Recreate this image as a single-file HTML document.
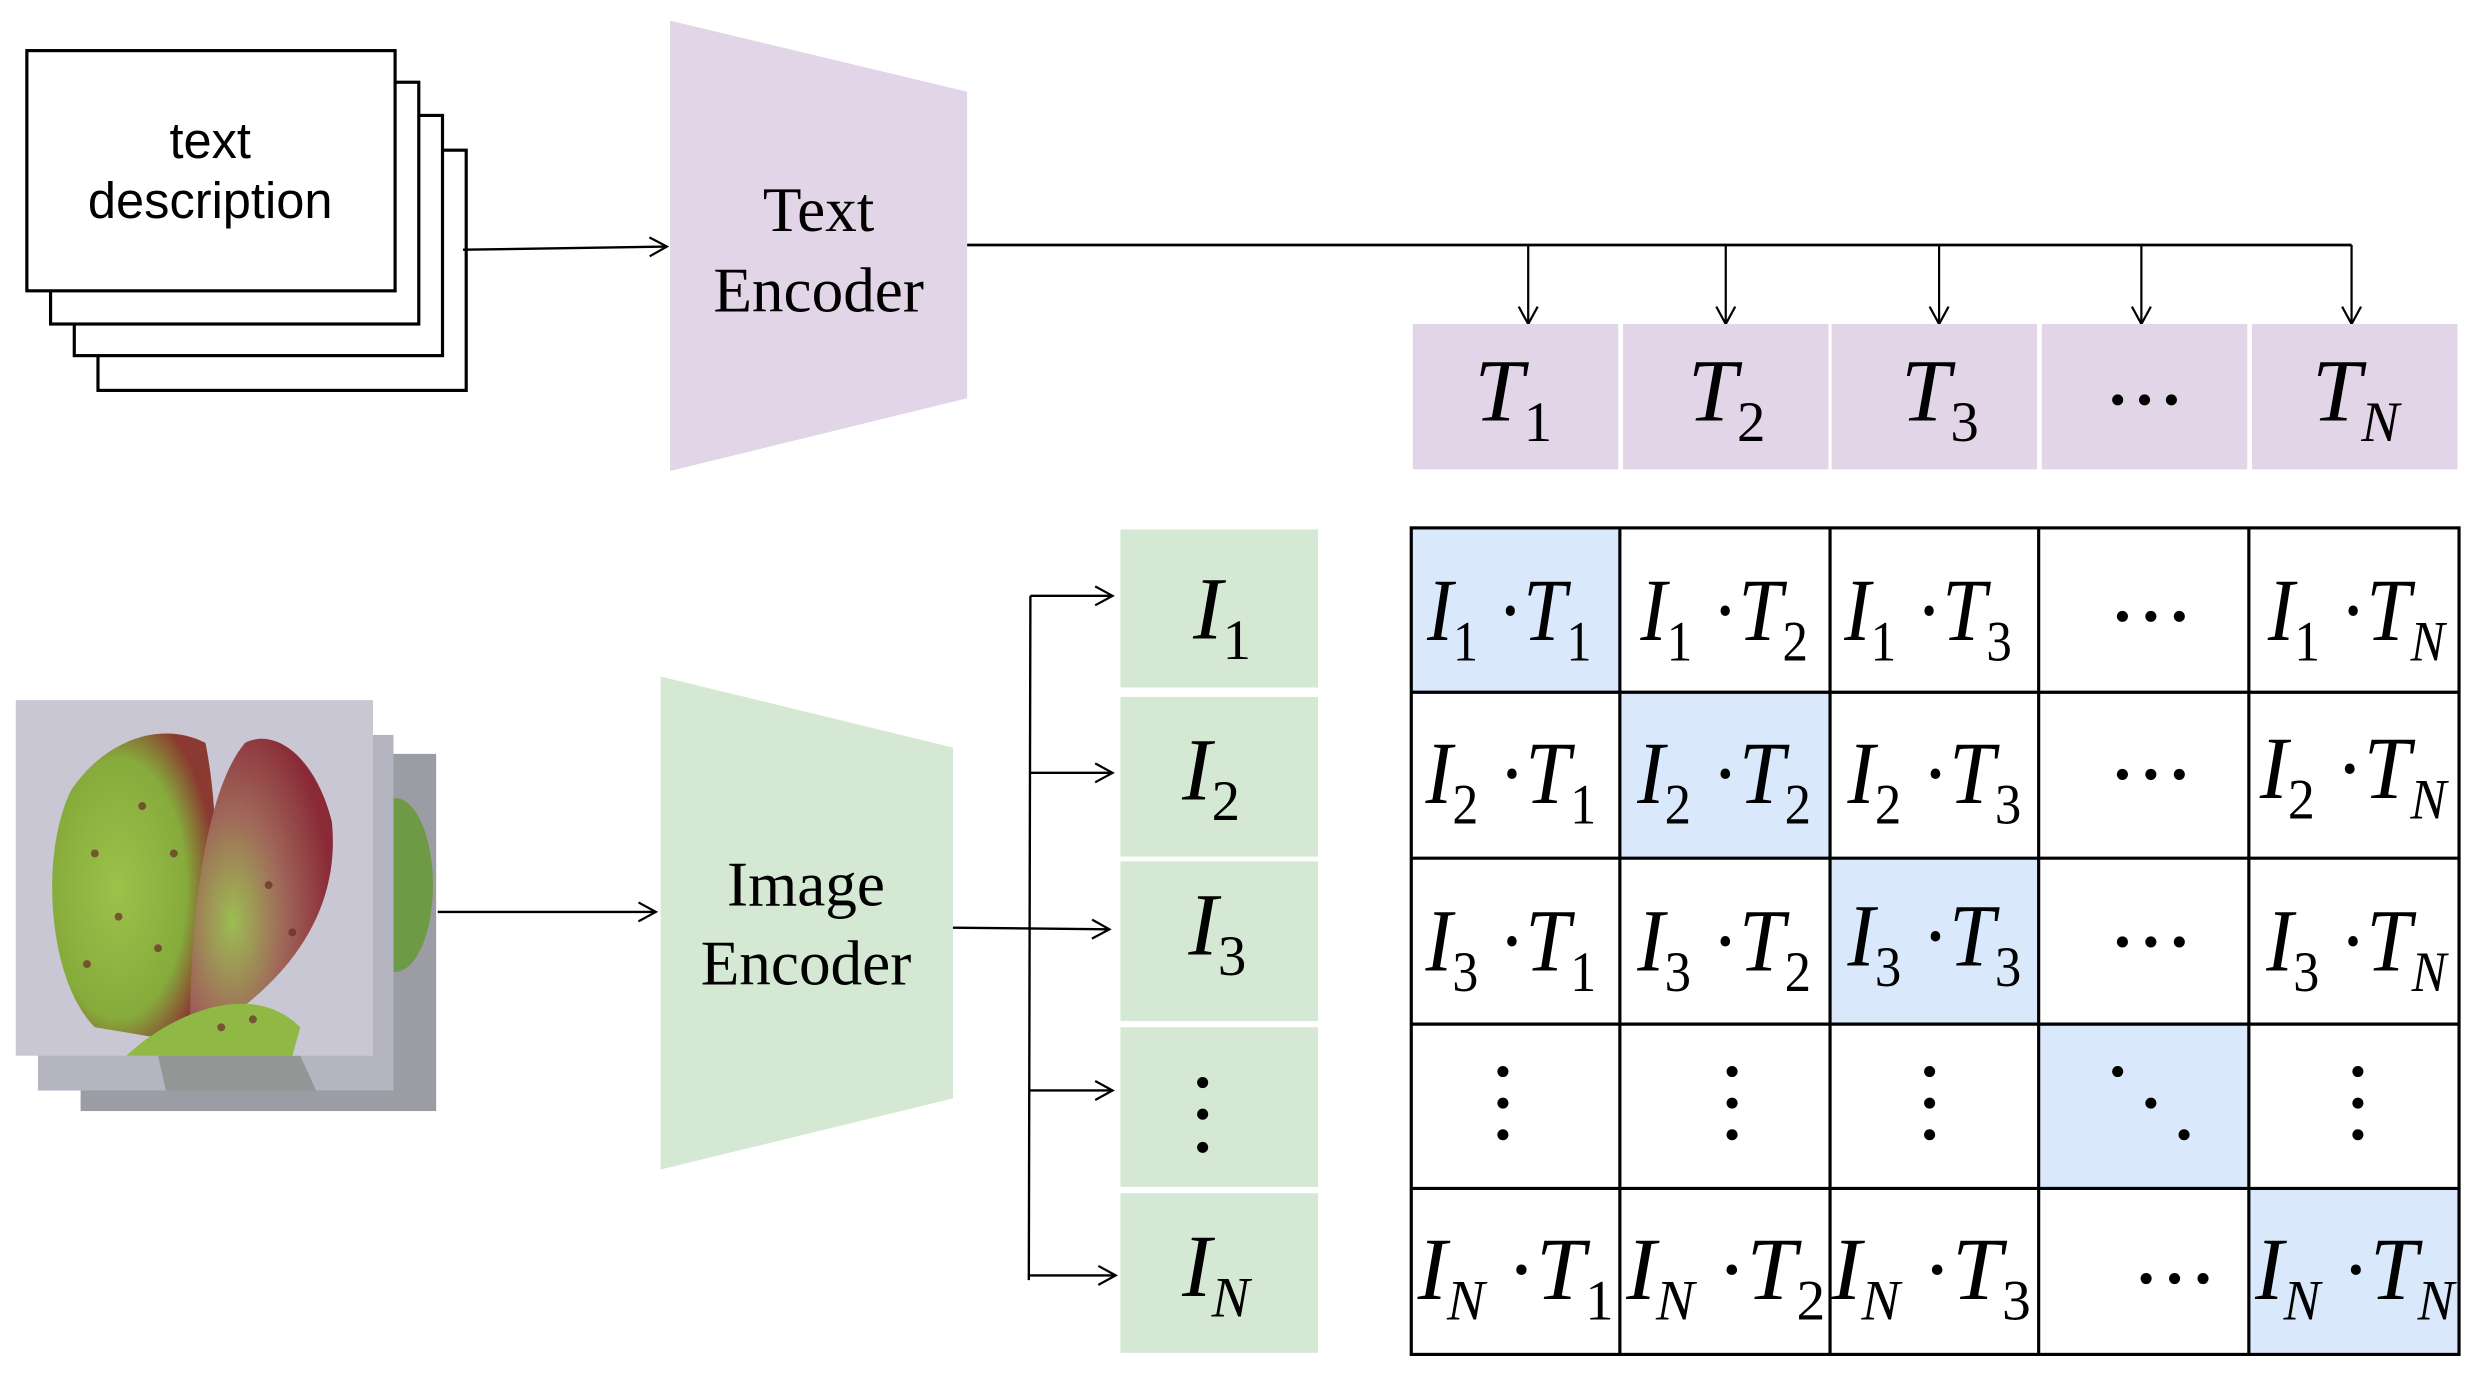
<!DOCTYPE html>
<html><head><meta charset="utf-8"><style>
html,body{margin:0;padding:0;background:#fff;}
svg{display:block;}
.m{font-family:"Liberation Serif","Times New Roman",serif;font-style:italic;font-size:56px;fill:#000;}
.s{font-style:normal;font-size:36px;}
.n{font-style:italic;font-size:36px;}
.u{font-style:normal;}
.enc{font-family:"Liberation Serif","Times New Roman",serif;font-size:40px;}
.sans{font-family:"Liberation Sans",Arial,sans-serif;font-size:32px;}
</style></head><body>
<svg width="2478" height="1375" viewBox="0 0 1568 870" xmlns="http://www.w3.org/2000/svg">
<defs>
<marker id="a" markerWidth="14" markerHeight="14" refX="12" refY="7" orient="auto" markerUnits="userSpaceOnUse">
<path d="M1,1 L12,7 L1,13" fill="none" stroke="#000" stroke-width="1.4"/></marker>
<radialGradient id="lg" cx="0.4" cy="0.5" r="0.6"><stop offset="0" stop-color="#9cc24a"/><stop offset="0.7" stop-color="#86ab3c"/><stop offset="1" stop-color="#8a3a30"/></radialGradient>
<radialGradient id="rg" cx="0.3" cy="0.6" r="0.7"><stop offset="0" stop-color="#9cbd52"/><stop offset="0.5" stop-color="#a0685a"/><stop offset="1" stop-color="#8a2a36"/></radialGradient>
</defs>

<g fill="#fff" stroke="#000" stroke-width="2">
<rect x="62" y="95" width="233" height="152"/>
<rect x="47" y="73" width="233" height="152"/>
<rect x="32" y="52" width="233" height="153"/>
<rect x="17" y="32" width="233" height="152"/>
</g>
<text class="sans" x="133" y="100" text-anchor="middle">text</text>
<text class="sans" x="133" y="138" text-anchor="middle">description</text>
<line x1="293" y1="158" x2="422" y2="156" stroke="#000" stroke-width="1.5" marker-end="url(#a)"/>

<polygon points="424,13 612,58 612,252 424,298" fill="#e1d5e7"/>
<text class="enc" x="518" y="146" text-anchor="middle">Text</text>
<text class="enc" x="518" y="197" text-anchor="middle">Encoder</text>
<line x1="612" y1="155" x2="1488" y2="155" stroke="#000" stroke-width="1.8"/>
<g stroke="#000" stroke-width="1.4">
<line x1="967" y1="155" x2="967" y2="205" marker-end="url(#a)"/>
<line x1="1092" y1="155" x2="1092" y2="205" marker-end="url(#a)"/>
<line x1="1227" y1="155" x2="1227" y2="205" marker-end="url(#a)"/>
<line x1="1355" y1="155" x2="1355" y2="205" marker-end="url(#a)"/>
<line x1="1488" y1="155" x2="1488" y2="205" marker-end="url(#a)"/>
</g>
<g fill="#e1d5e7">
<rect x="894" y="205" width="130" height="92"/>
<rect x="1027" y="205" width="130" height="92"/>
<rect x="1159" y="205" width="130" height="92"/>
<rect x="1292" y="205" width="130" height="92"/>
<rect x="1425" y="205" width="130" height="92"/>
</g>
<text class="m" x="933" y="266">T<tspan class="s" dy="13">1</tspan></text>
<text class="m" x="1068" y="266">T<tspan class="s" dy="13">2</tspan></text>
<text class="m" x="1203" y="266">T<tspan class="s" dy="13">3</tspan></text>
<g fill="#000"><circle cx="1340" cy="253" r="3.5"/><circle cx="1357" cy="253" r="3.5"/><circle cx="1374" cy="253" r="3.5"/></g>
<text class="m" x="1463" y="266">T<tspan class="n" dy="13">N</tspan></text>

<rect x="51" y="477" width="225" height="226" fill="#9c9ca4"/>
<ellipse cx="250" cy="560" rx="24" ry="55" fill="#6f9a45"/>
<rect x="24" y="465" width="225" height="225" fill="#b5b5c2"/>
<rect x="10" y="443" width="226" height="225" fill="#c9c7d3"/>
<path d="M60,650 C30,620 25,540 45,500 C65,470 100,455 130,470 C140,520 140,600 120,660 Z" fill="url(#lg)"/>
<path d="M120,660 C120,580 130,500 155,470 C175,460 200,480 210,520 C215,570 190,610 150,640 Z" fill="url(#rg)"/>
<path d="M80,668 C110,640 160,620 190,650 L185,668 Z" fill="#8fb845"/>
<path d="M100,668 L105,690 L200,690 L190,668 Z" fill="#6f7a6a" opacity="0.5"/>
<g fill="#6a2a2a" opacity="0.7">
<circle cx="60" cy="540" r="2.5"/><circle cx="75" cy="580" r="2.5"/><circle cx="90" cy="510" r="2.5"/><circle cx="100" cy="600" r="2.5"/><circle cx="55" cy="610" r="2.5"/><circle cx="110" cy="540" r="2.5"/><circle cx="140" cy="650" r="2.5"/><circle cx="160" cy="645" r="2.5"/><circle cx="170" cy="560" r="2.5"/><circle cx="185" cy="590" r="2.5"/>
</g>
<line x1="277" y1="577" x2="415" y2="577" stroke="#000" stroke-width="1.5" marker-end="url(#a)"/>

<polygon points="418,428 603,473 603,695 418,740" fill="#d5e8d4"/>
<text class="enc" x="510" y="573" text-anchor="middle">Image</text>
<text class="enc" x="510" y="623" text-anchor="middle">Encoder</text>
<line x1="603" y1="587" x2="702" y2="588" stroke="#000" stroke-width="1.5" marker-end="url(#a)"/>
<line x1="652" y1="377" x2="651" y2="810" stroke="#000" stroke-width="1.5"/>
<g stroke="#000" stroke-width="1.5">
<line x1="652" y1="377" x2="704" y2="377" marker-end="url(#a)"/>
<line x1="652" y1="489" x2="704" y2="489" marker-end="url(#a)"/>
<line x1="652" y1="690" x2="704" y2="690" marker-end="url(#a)"/>
<line x1="651" y1="807" x2="706" y2="807" marker-end="url(#a)"/>
</g>
<g fill="#d5e8d4">
<rect x="709" y="335" width="125" height="100"/>
<rect x="709" y="441" width="125" height="101"/>
<rect x="709" y="545" width="125" height="101"/>
<rect x="709" y="650" width="125" height="101"/>
<rect x="709" y="755" width="125" height="101"/>
</g>
<text class="m" x="755" y="404">I<tspan class="s" dy="13">1</tspan></text>
<text class="m" x="748" y="506">I<tspan class="s" dy="13">2</tspan></text>
<text class="m" x="752" y="604">I<tspan class="s" dy="13">3</tspan></text>
<g fill="#000"><circle cx="761" cy="685" r="3.5"/><circle cx="761" cy="705" r="3.5"/><circle cx="761" cy="726" r="3.5"/></g>
<text class="m" x="748" y="820">I<tspan class="n" dy="13">N</tspan></text>

<g fill="#dae8fc">
<rect x="893" y="334" width="132" height="104"/>
<rect x="1025" y="438" width="133" height="105"/>
<rect x="1158" y="543" width="132" height="105"/>
<rect x="1290" y="648" width="133" height="104"/>
<rect x="1423" y="752" width="133" height="105"/>
</g>
<g stroke="#000" stroke-width="2" fill="none">
<rect x="893" y="334" width="663" height="523"/>
<line x1="1025" y1="334" x2="1025" y2="857"/>
<line x1="1158" y1="334" x2="1158" y2="857"/>
<line x1="1290" y1="334" x2="1290" y2="857"/>
<line x1="1423" y1="334" x2="1423" y2="857"/>
<line x1="893" y1="438" x2="1556" y2="438"/>
<line x1="893" y1="543" x2="1556" y2="543"/>
<line x1="893" y1="648" x2="1556" y2="648"/>
<line x1="893" y1="752" x2="1556" y2="752"/>
</g>

<text class="m" x="955" y="405" text-anchor="middle" textLength="104" lengthAdjust="spacingAndGlyphs">I<tspan class="s" dy="13">1</tspan><tspan class="u" dy="-13"> ·</tspan>T<tspan class="s" dy="13">1</tspan></text>
<text class="m" x="1091" y="405" text-anchor="middle" textLength="106" lengthAdjust="spacingAndGlyphs">I<tspan class="s" dy="13">1</tspan><tspan class="u" dy="-13"> ·</tspan>T<tspan class="s" dy="13">2</tspan></text>
<text class="m" x="1220" y="405" text-anchor="middle" textLength="106" lengthAdjust="spacingAndGlyphs">I<tspan class="s" dy="13">1</tspan><tspan class="u" dy="-13"> ·</tspan>T<tspan class="s" dy="13">3</tspan></text>
<g fill="#000"><circle cx="1343" cy="390" r="3.5"/><circle cx="1361" cy="390" r="3.5"/><circle cx="1379" cy="390" r="3.5"/></g>
<text class="m" x="1491" y="405" text-anchor="middle" textLength="112" lengthAdjust="spacingAndGlyphs">I<tspan class="s" dy="13">1</tspan><tspan class="u" dy="-13"> ·</tspan>T<tspan class="n" dy="13">N</tspan></text>

<text class="m" x="956" y="508" text-anchor="middle" textLength="108" lengthAdjust="spacingAndGlyphs">I<tspan class="s" dy="13">2</tspan><tspan class="u" dy="-13"> ·</tspan>T<tspan class="s" dy="13">1</tspan></text>
<text class="m" x="1091" y="508" text-anchor="middle" textLength="110" lengthAdjust="spacingAndGlyphs">I<tspan class="s" dy="13">2</tspan><tspan class="u" dy="-13"> ·</tspan>T<tspan class="s" dy="13">2</tspan></text>
<text class="m" x="1224" y="508" text-anchor="middle" textLength="110" lengthAdjust="spacingAndGlyphs">I<tspan class="s" dy="13">2</tspan><tspan class="u" dy="-13"> ·</tspan>T<tspan class="s" dy="13">3</tspan></text>
<g fill="#000"><circle cx="1343" cy="490" r="3.5"/><circle cx="1361" cy="490" r="3.5"/><circle cx="1379" cy="490" r="3.5"/></g>
<text class="m" x="1489" y="505" text-anchor="middle" textLength="118" lengthAdjust="spacingAndGlyphs">I<tspan class="s" dy="13">2</tspan><tspan class="u" dy="-13"> ·</tspan>T<tspan class="n" dy="13">N</tspan></text>

<text class="m" x="956" y="614" text-anchor="middle" textLength="108" lengthAdjust="spacingAndGlyphs">I<tspan class="s" dy="13">3</tspan><tspan class="u" dy="-13"> ·</tspan>T<tspan class="s" dy="13">1</tspan></text>
<text class="m" x="1091" y="614" text-anchor="middle" textLength="110" lengthAdjust="spacingAndGlyphs">I<tspan class="s" dy="13">3</tspan><tspan class="u" dy="-13"> ·</tspan>T<tspan class="s" dy="13">2</tspan></text>
<text class="m" x="1224" y="611" text-anchor="middle" textLength="110" lengthAdjust="spacingAndGlyphs">I<tspan class="s" dy="13">3</tspan><tspan class="u" dy="-13"> ·</tspan>T<tspan class="s" dy="13">3</tspan></text>
<g fill="#000"><circle cx="1343" cy="596" r="3.5"/><circle cx="1361" cy="596" r="3.5"/><circle cx="1379" cy="596" r="3.5"/></g>
<text class="m" x="1491" y="614" text-anchor="middle" textLength="114" lengthAdjust="spacingAndGlyphs">I<tspan class="s" dy="13">3</tspan><tspan class="u" dy="-13"> ·</tspan>T<tspan class="n" dy="13">N</tspan></text>

<g fill="#000">
<circle cx="951" cy="678" r="3.5"/><circle cx="951" cy="698" r="3.5"/><circle cx="951" cy="718" r="3.5"/>
<circle cx="1096" cy="678" r="3.5"/><circle cx="1096" cy="698" r="3.5"/><circle cx="1096" cy="718" r="3.5"/>
<circle cx="1221" cy="678" r="3.5"/><circle cx="1221" cy="698" r="3.5"/><circle cx="1221" cy="718" r="3.5"/>
<circle cx="1340" cy="678" r="3.5"/><circle cx="1361" cy="698" r="3.5"/><circle cx="1382" cy="718" r="3.5"/>
<circle cx="1492" cy="678" r="3.5"/><circle cx="1492" cy="698" r="3.5"/><circle cx="1492" cy="718" r="3.5"/>
</g>

<text class="m" x="959" y="822" text-anchor="middle" textLength="124" lengthAdjust="spacingAndGlyphs">I<tspan class="n" dy="13">N</tspan><tspan class="u" dy="-13"> ·</tspan>T<tspan class="s" dy="13">1</tspan></text>
<text class="m" x="1092" y="822" text-anchor="middle" textLength="126" lengthAdjust="spacingAndGlyphs">I<tspan class="n" dy="13">N</tspan><tspan class="u" dy="-13"> ·</tspan>T<tspan class="s" dy="13">2</tspan></text>
<text class="m" x="1222" y="822" text-anchor="middle" textLength="126" lengthAdjust="spacingAndGlyphs">I<tspan class="n" dy="13">N</tspan><tspan class="u" dy="-13"> ·</tspan>T<tspan class="s" dy="13">3</tspan></text>
<g fill="#000"><circle cx="1358" cy="809" r="3.5"/><circle cx="1376" cy="809" r="3.5"/><circle cx="1394" cy="809" r="3.5"/></g>
<text class="m" x="1490" y="822" text-anchor="middle" textLength="126" lengthAdjust="spacingAndGlyphs">I<tspan class="n" dy="13">N</tspan><tspan class="u" dy="-13"> ·</tspan>T<tspan class="n" dy="13">N</tspan></text>
</svg>
</body></html>
